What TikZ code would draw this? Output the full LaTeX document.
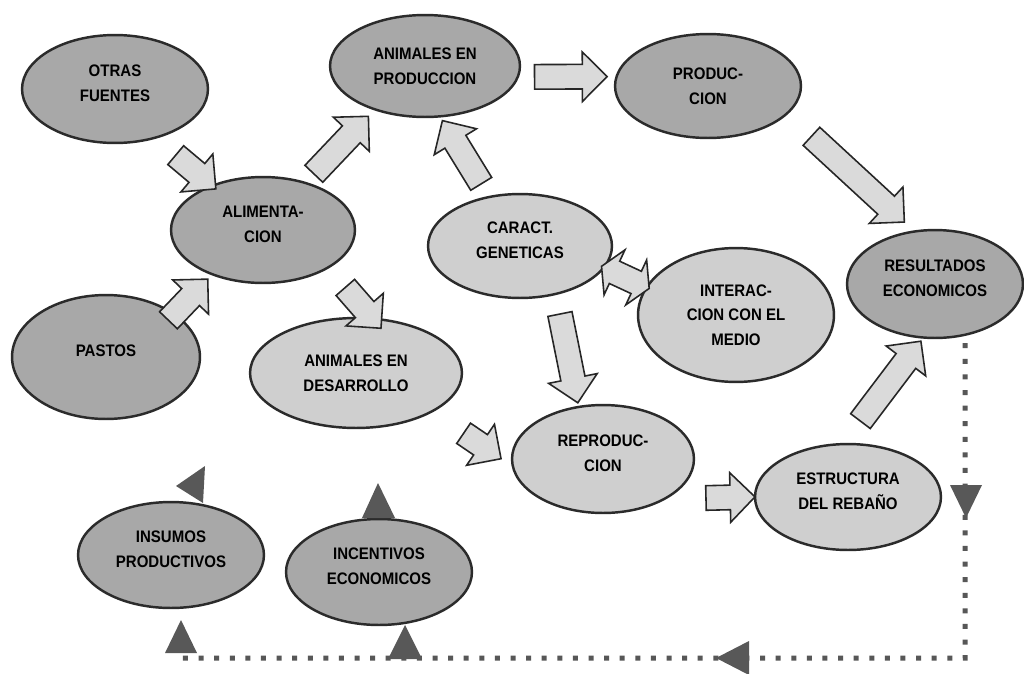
\documentclass[tikz,border=0pt]{standalone}
\usepackage{fontspec}
\setmainfont{Liberation Sans}
\newfontfamily\lblfont{Liberation Sans}[FakeStretch=0.9]
\usetikzlibrary{shapes.geometric,shapes.arrows,calc}
\definecolor{darkfill}{HTML}{A8A8A8}
\definecolor{lightfill}{HTML}{CFCFCF}
\definecolor{arrowfill}{HTML}{DADADA}
\definecolor{edgec}{HTML}{2B2B2B}
\definecolor{tric}{HTML}{585858}
\definecolor{dotc}{HTML}{575757}
\newcommand\lowstrut{\rule[-0.24cm]{0pt}{0.24cm}}
% \barrow[shape]{name}{nodeA}{angleA}{offsetA}{nodeB}{angleB}{offsetB}
\newcommand\barrow[8][single arrow]{%
  \path let \p1=($(#3.#4)!#5!(#3.center)$), \p2=($(#6.#7)!#8!(#6.center)$),
    \n1={atan2(\y2-\y1,\x2-\x1)}, \n2={veclen(\x2-\x1,\y2-\y1)} in
    node[#1, blockarrow, minimum height=\n2, rotate=\n1] (#2) at ($(\p1)!0.5!(\p2)$) {};}
\tikzset{
  ell/.style={ellipse, draw=edgec, line width=1.4pt, inner sep=0pt, align=center,
    font=\lblfont\bfseries\fontsize{9.5}{14}\selectfont},
  dk/.style={ell, fill=darkfill},
  lt/.style={ell, fill=lightfill},
  sz/.style 2 args={minimum width={#1*0.04cm}, minimum height={#2*0.04cm}},
  blockarrow/.style={draw=black!85, fill=arrowfill, line width=0.9pt,
    inner xsep=0pt, inner ysep=0.23cm, text height=0pt, text depth=0pt,
    single arrow head extend=0.25cm, double arrow head extend=0.25cm},
  dblarrow/.style={double arrow, inner ysep=0.21cm, double arrow head extend=0.24cm,
    double arrow tip angle=120},
  dotline/.style={draw=dotc, line width=0.1cm, dash pattern=on 0.1cm off 0.212cm},
  tri/.style={fill=tric}
}
\begin{document}
\begin{tikzpicture}[x=0.02cm, y=-0.02cm]
\fill[white] (0,0) rectangle (1024,673);
\useasboundingbox (0,0) rectangle (1024,673);

% ellipses
\node[dk, sz={93}{54}] (ofu) at (115,89) {OTRAS\\FUENTES\lowstrut};
\node[dk, sz={95}{51}] (apr) at (425,66) {ANIMALES EN\\PRODUCCION};
\node[dk, sz={92}{53}] (ali) at (263,230) {ALIMENTA-\\CION\lowstrut};
\node[lt, sz={92}{52}] (gen) at (520,246) {CARACT.\\GENETICAS\lowstrut};
\node[dk, sz={93}{52}] (pro) at (708,86) {PRODUC-\\CION};
\node[dk, sz={88}{54}] (res) at (935,284) {RESULTADOS\\ECONOMICOS\lowstrut};
\node[lt, sz={98}{67}] (int) at (736,315) {INTERAC-\\CION CON EL\\MEDIO};
\node[dk, sz={94}{62}] (pas) at (106,357) {PASTOS\lowstrut};
\node[lt, sz={106}{55}] (ade) at (356,373) {ANIMALES EN\\DESARROLLO};
\node[lt, sz={91}{54}] (rep) at (603,459) {REPRODUC-\\CION\lowstrut};
\node[lt, sz={93}{53}] (est) at (848,497) {ESTRUCTURA\\DEL REBAÑO\lowstrut};
\node[dk, sz={93}{53}] (ins) at (171,555) {INSUMOS\\PRODUCTIVOS\lowstrut};
\node[dk, sz={93}{53}] (inc) at (379,572) {INCENTIVOS\\ECONOMICOS\lowstrut};

% block arrows
\barrow{a1}{ofu}{-48}{-0.36cm}{ali}{139}{0cm}
\barrow{a2}{ali}{48}{-0.1cm}{apr}{-138}{-0.3cm}
\barrow{a3}{gen}{122}{-0.16cm}{apr}{-71}{-0.18cm}
\barrow{a4}{apr}{-6}{-0.18cm}{pro}{175}{-0.28cm}
\barrow{a5}{pro}{-25}{-0.58cm}{res}{118}{-0.31cm}
\barrow{a6}{pas}{29}{0.34cm}{ali}{-138}{-0.24cm}
\barrow{a7}{ali}{-34}{-0.42cm}{ade}{67}{0.12cm}
\barrow[dblarrow]{a8}{gen}{-14}{0.08cm}{int}{163}{0.08cm}
\barrow{a9}{gen}{-58}{-0.28cm}{rep}{113}{-0.19cm}
\barrow{a10}{ade}{-29}{-0.66cm}{rep}{178}{-0.3cm}
\barrow{a11}{rep}{-22}{-0.44cm}{est}{180}{-0.1cm}
\barrow{a12}{est}{83}{-0.34cm}{res}{-106}{-0.16cm}

% dotted feedback line
\coordinate (d0) at ([xshift=0.6cm,yshift=-0.08cm]res.south);
\coordinate (d1) at (965,658);
\coordinate (d2) at (180,658);
\draw[dotline] (d0) -- (d1) -- (d2);

% arrowheads
\fill[tri] (950,485) -- (982,485) -- (966,518) -- cycle;
\fill[tri] (716,658) -- (749,641) -- (749,675) -- cycle;
\fill[tri] (181,620) -- (165,653) -- (197,653) -- cycle;
\fill[tri] (405,625) -- (388,659) -- (422,659) -- cycle;
\fill[tri] (378,483) -- (362,518) -- (395,518) -- cycle;
\fill[tri] (176,486) -- (205,466) -- (203,503) -- cycle;
\end{tikzpicture}
\end{document}
